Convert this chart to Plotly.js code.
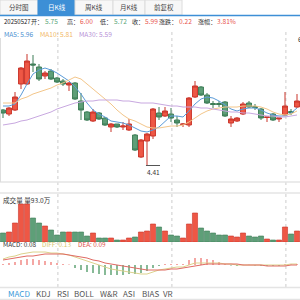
<!DOCTYPE html>
<html><head><meta charset="utf-8">
<script src="https://cdn.plot.ly/plotly-3.0.1.min.js"></script>
<style>html,body{margin:0;padding:0;background:#fff;overflow:hidden}#chart{width:300px;height:300px}</style>
</head><body><div id="chart"></div>
<script>
// ---- data ----
const days = [0,1,2,3,4,5,6,7,8,9,10,11,12,13,14,15,16,17,18,19,20,21,22,23,24,25,26,27,28,29,30,31,32,33,34,35,36,37,38,39,40,41,42,43,44,45,46,47,48,49];
const openP  = [5.51,5.43,5.51,6.03,6.03,6.43,6.37,6.19,6.29,6.15,6.09,6.01,6.05,5.69,5.47,5.29,5.45,5.35,5.17,5.23,5.17,5.11,5.01,4.57,4.89,4.99,5.45,5.39,5.43,5.31,5.22,5.21,5.77,5.97,5.81,5.64,5.64,5.67,5.25,5.29,5.43,5.65,5.58,5.53,5.36,5.43,5.33,5.41,5.48,5.57];
const closeP = [5.45,5.55,5.77,6.35,6.49,6.41,6.13,6.25,6.13,6.07,6.03,6.05,5.73,5.51,5.31,5.47,5.33,5.21,5.23,5.17,5.19,5.23,4.71,4.91,5.03,5.53,5.37,5.49,5.35,5.25,5.23,5.75,5.99,5.81,5.65,5.62,5.62,5.39,5.33,5.35,5.63,5.57,5.56,5.35,5.37,5.31,5.35,5.59,5.46,5.69];
const highP  = [5.53,5.57,5.87,6.37,6.63,6.61,6.43,6.29,6.33,6.17,6.13,6.07,6.07,5.85,5.49,5.53,5.47,5.37,5.25,5.23,5.27,5.33,5.03,4.93,5.05,5.55,5.57,5.57,5.55,5.39,5.25,5.77,6.09,5.99,5.85,5.69,5.69,5.69,5.39,5.37,5.67,5.69,5.63,5.55,5.37,5.45,5.35,5.87,5.53,5.83];
const lowP   = [5.35,5.39,5.49,5.93,6.01,6.27,6.09,6.13,6.11,6.05,5.99,5.89,5.71,5.31,5.29,5.27,5.31,5.19,5.07,5.15,5.11,5.09,4.69,4.55,4.41,4.93,5.31,5.37,5.27,5.17,5.17,5.17,5.75,5.79,5.63,5.55,5.57,5.37,5.17,5.27,5.41,5.55,5.51,5.31,5.27,5.29,5.27,5.39,5.41,5.55];
const ma5  = [5.59,5.59,5.63,5.81,6.03,6.23,6.31,6.35,6.31,6.25,6.17,6.09,5.97,5.83,5.65,5.51,5.43,5.37,5.29,5.27,5.25,5.21,5.15,5.09,5.07,5.11,5.17,5.29,5.39,5.39,5.37,5.49,5.63,5.73,5.77,5.75,5.69,5.61,5.53,5.49,5.53,5.55,5.55,5.51,5.45,5.41,5.39,5.39,5.45,5.55];
const ma10 = [5.65,5.65,5.65,5.73,5.77,5.83,5.87,5.91,5.95,6.01,6.05,6.11,6.17,6.13,6.03,5.93,5.83,5.73,5.63,5.51,5.41,5.33,5.29,5.23,5.17,5.15,5.15,5.17,5.19,5.19,5.21,5.27,5.35,5.43,5.49,5.53,5.55,5.57,5.57,5.57,5.59,5.59,5.59,5.57,5.53,5.47,5.43,5.41,5.43,5.49];
const ma30 = [5.21,5.23,5.25,5.29,5.31,5.35,5.39,5.43,5.47,5.53,5.57,5.61,5.65,5.67,5.69,5.69,5.71,5.71,5.71,5.71,5.69,5.69,5.67,5.65,5.65,5.65,5.63,5.61,5.59,5.59,5.57,5.57,5.57,5.55,5.55,5.53,5.51,5.49,5.47,5.47,5.45,5.45,5.43,5.41,5.39,5.39,5.37,5.37,5.39,5.41];
const volume = [45,50,95,190,190,120,95,80,60,35,50,50,50,50,30,45,20,20,20,10,10,20,25,50,55,90,75,55,35,30,20,90,145,70,55,45,35,35,30,25,45,30,25,30,15,10,10,75,40,55];
const macdHist = [0.02,0.04,0.06,0.10,0.12,0.12,0.10,0.08,0.06,0.04,0.02,0.01,-0.06,-0.10,-0.14,-0.16,-0.18,-0.20,-0.20,-0.20,-0.20,-0.18,-0.18,-0.16,-0.12,-0.06,-0.02,0.02,0.02,0.02,0.02,0.10,0.14,0.14,0.12,0.10,0.06,0.02,-0.01,-0.02,0.005,0.005,-0.01,-0.02,-0.02,-0.02,-0.02,0.02,0.01,0.02];
const diff = [0.12,0.16,0.18,0.22,0.24,0.26,0.26,0.26,0.24,0.24,0.22,0.20,0.16,0.12,0.08,0.04,0.00,-0.04,-0.08,-0.10,-0.12,-0.14,-0.16,-0.18,-0.18,-0.14,-0.10,-0.08,-0.06,-0.04,-0.04,0.00,0.04,0.04,0.04,0.04,0.04,0.02,0.02,0.00,0.00,0.00,0.00,0.00,0.00,0.00,0.00,0.00,0.02,0.02];
const dea = [0.10,0.12,0.14,0.16,0.18,0.18,0.20,0.22,0.22,0.22,0.22,0.20,0.18,0.16,0.14,0.10,0.08,0.04,0.02,0.00,-0.02,-0.04,-0.06,-0.08,-0.10,-0.10,-0.10,-0.10,-0.08,-0.08,-0.06,-0.04,-0.02,0.00,0.02,0.02,0.02,0.02,0.02,0.02,0.00,0.00,0.00,0.00,-0.02,-0.02,-0.02,-0.02,0.00,0.00];
const gridDays = [9, 28, 47];
const periodTabs = ['分时图','日K线','周K线','月K线','前复权'];
const indicatorTabs = ['MACD','KDJ','RSI','BOLL','W&R','ASI','BIAS','VR'];
const infoDate = '20250527';
const infoItems = [['开：','5.75','down'],['高：','6.00','up'],['低：','5.72','down'],['收：','5.99','up'],['涨跌：','0.22','up'],['涨幅：','3.81%','up']];
const maLabels = [['MA5: 5.96','#4a8fd0'],['MA10: 5.81','#f2b766'],['MA30: 5.59','#b58fd6']];
const volLabel = '成交量 量93.0万';
const macdLabels = [['MACD: 0.08','#333333'],['DIFF: 0.13','#d6c56a'],['DEA: 0.09','#e0504a']];
const topMarker = '6.66';

// ---- styling ----
const RED='#ee5745', RED_L='#c9342a', GRN='#5e9f78', GRN_L='#3d7c56';
const FONT='Noto Sans CJK SC, Noto Sans, sans-serif';
const W=300,H=300;
const py=v=>1-v/H, pxv=v=>v/W;
function ann(text,x,y,size,color,extra){return Object.assign({text:text,xref:'paper',yref:'paper',x:pxv(x),y:py(y),xanchor:'left',yanchor:'middle',showarrow:false,font:{family:FONT,size:size,color:color}},extra||{});}

const traces=[];
traces.push({type:'candlestick',x:days,open:openP,high:highP,low:lowP,close:closeP,xaxis:'x',yaxis:'y',
  increasing:{line:{color:RED_L,width:1},fillcolor:RED},decreasing:{line:{color:GRN_L,width:1},fillcolor:GRN},
  whiskerwidth:0,hoverinfo:'skip',showlegend:false});
traces.push({type:'scatter',mode:'lines',x:days,y:ma5,line:{color:'#5b9bd8',width:1},yaxis:'y',hoverinfo:'skip'});
traces.push({type:'scatter',mode:'lines',x:days,y:ma10,line:{color:'#f3c68a',width:1},yaxis:'y',hoverinfo:'skip'});
traces.push({type:'scatter',mode:'lines',x:days,y:ma30,line:{color:'#c8a8e0',width:1},yaxis:'y',hoverinfo:'skip'});
const volColors=closeP.map((c,i)=>c>=openP[i]?RED:GRN);
const volLine=closeP.map((c,i)=>c>=openP[i]?RED_L:GRN_L);
traces.push({type:'bar',x:days,y:volume,yaxis:'y2',marker:{color:volColors,line:{color:volLine,width:0.6}},hoverinfo:'skip'});
traces.push({type:'bar',x:days,y:macdHist,yaxis:'y3',width:0.25,marker:{color:macdHist.map(v=>v>=0?'#f08a86':'#5fa374')},hoverinfo:'skip'});
traces.push({type:'scatter',mode:'lines',x:days,y:diff,yaxis:'y3',line:{color:'#dcd28c',width:1},hoverinfo:'skip'});
traces.push({type:'scatter',mode:'lines',x:days,y:dea,yaxis:'y3',line:{color:'#e06a63',width:1},hoverinfo:'skip'});

const shapes=[], annotations=[];
// period tabs
const tabEdges=[0,38,75,113,145,182];
periodTabs.forEach((t,i)=>{
  const sel=i===1;
  shapes.push({type:'rect',xref:'paper',yref:'paper',x0:pxv(tabEdges[i]),x1:pxv(tabEdges[i+1]),y0:py(15),y1:py(0),
    fillcolor:sel?'#3d8fd6':'#f7f7f7',line:{color:sel?'#3d8fd6':'#dcdcdc',width:1},layer:'below'});
  annotations.push(ann(t,(tabEdges[i]+tabEdges[i+1])/2,7,6.5,sel?'#ffffff':'#444444',{xanchor:'center'}));
});
shapes.push({type:'line',xref:'paper',yref:'paper',x0:0,x1:1,y0:py(15.5),y1:py(15.5),line:{color:'#3d8fd6',width:1.5}});
// info line
annotations.push(ann(infoDate,1.5,21,6,'#222222'));
const infoX=[[29,42.5],[65,77.5],[98,112],[130,142.5],[157,177],[196,214.5]];
infoItems.forEach((it,i)=>{
  annotations.push(ann(it[0],infoX[i][0],21,6.1,'#333333'));
  annotations.push(ann(it[1],infoX[i][1],21,6.6,it[2]==='up'?'#e8554e':'#5aa57a'));
});
// MA labels
const maX=[2,38,77];
maLabels.forEach((m,i)=>annotations.push(ann(m[0],maX[i],33.5,6.6,m[1])));
// volume label
annotations.push(ann(volLabel,1,199.5,6.6,'#333333'));
// macd labels
const mX=[1,40,76];
macdLabels.forEach((m,i)=>annotations.push(ann(m[0],mX[i],244.5,6.4,m[1])));
// indicator tabs
const indX=[19,43.5,62.5,84.5,109,129,150,167.5];
indicatorTabs.forEach((t,i)=>annotations.push(ann(t,indX[i],293.5,8,i===0?'#3a9ad9':'#555555',{xanchor:'center'})));
// separators
[182,193].forEach(v=>shapes.push({type:'line',xref:'paper',yref:'paper',x0:0,x1:1,y0:py(v),y1:py(v),line:{color:'#e4e4e4',width:1.5}}));
[287.5,299.5].forEach(v=>shapes.push({type:'line',xref:'paper',yref:'paper',x0:0,x1:1,y0:py(v),y1:py(v),line:{color:'#e4e4e4',width:1.5}}));
shapes.push({type:'line',xref:'paper',yref:'paper',x0:pxv(0.5),x1:pxv(0.5),y0:py(182),y1:py(38),line:{color:'#dddddd',width:1}});
// dotted vertical grid
gridDays.forEach(d=>shapes.push({type:'line',xref:'x',yref:'paper',x0:d+0.15,x1:d+0.15,y0:py(287),y1:py(30),line:{color:'#cccccc',width:1,dash:'dot'},layer:'below'}));
// low marker
const lowVal=Math.min(...lowP), lowIdx=lowP.indexOf(lowVal);
shapes.push({type:'line',xref:'x',yref:'y',x0:lowIdx-0.17,x1:lowIdx+2.17,y0:lowVal-0.01,y1:lowVal-0.01,line:{color:'#555555',width:1}});
annotations.push({text:lowVal.toFixed(2),xref:'x',yref:'y',x:lowIdx+1,y:lowVal,yshift:-7,xanchor:'center',yanchor:'middle',showarrow:false,font:{family:FONT,size:6.5,color:'#333333'}});
annotations.push(ann(topMarker,296,39,7,'#333333'));

const layout={width:W,height:H,margin:{l:0,r:0,t:0,b:0},paper_bgcolor:'#ffffff',plot_bgcolor:'#ffffff',showlegend:false,
  boxgap:0.1,boxgroupgap:0.1,bargap:0.15,
  xaxis:{range:[-0.5,49.5],visible:false,fixedrange:true,rangeslider:{visible:false},anchor:'y'},
  yaxis:{domain:[py(182),py(40)],range:[4.07,6.91],visible:false,fixedrange:true},
  yaxis2:{domain:[py(242),py(203)],range:[0,195],visible:false,fixedrange:true,anchor:'x'},
  yaxis3:{domain:[py(285),py(248)],range:[-0.40,0.34],visible:false,fixedrange:true,anchor:'x'},
  shapes:shapes,annotations:annotations};
Plotly.newPlot('chart',traces,layout,{staticPlot:true,displayModeBar:false});
</script></body></html>
